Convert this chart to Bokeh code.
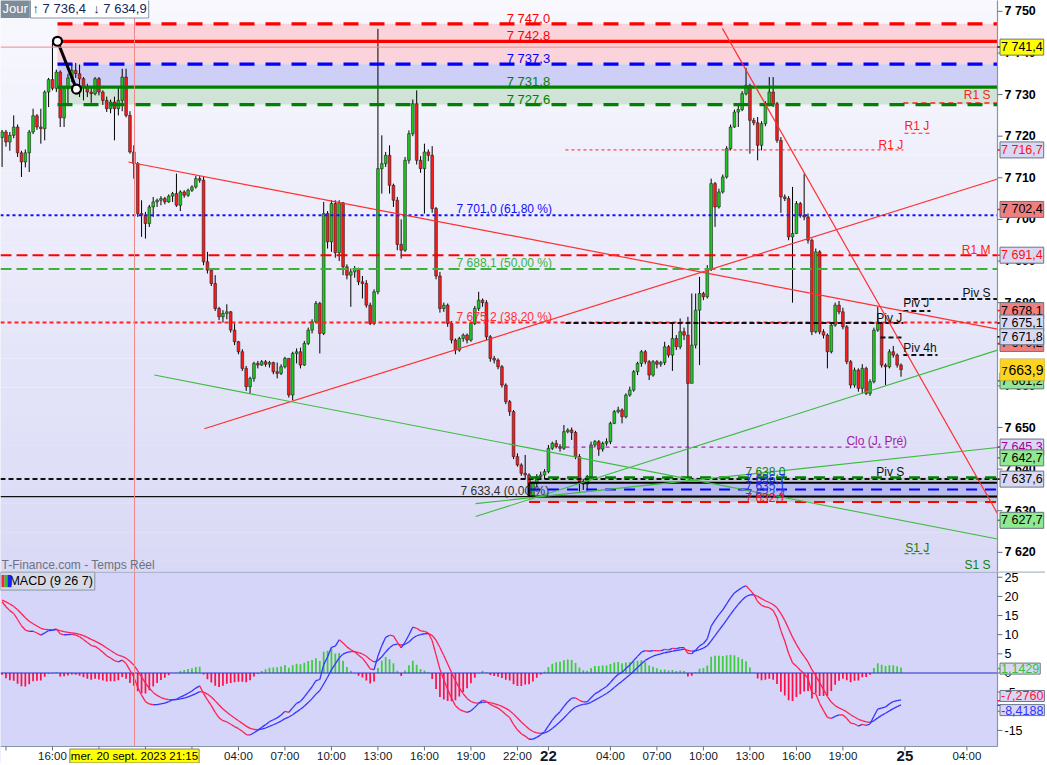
import numpy as np
from bokeh.plotting import figure
from bokeh.layouts import column
from bokeh.models import Range1d, Label, BoxAnnotation, ColumnDataSource
from bokeh.core.properties import value
from bokeh.embed import file_html
from bokeh.resources import INLINE

# ---------------- data (15-minute candles, index 0 = 20 Sep 12:45) ----------------
OPEN_FIRST = 7719.7
CLOSE = [
    7721.0, 7718.6, 7720.2, 7722.2, 7716.0, 7713.8, 7716.0, 7721.0, 7724.9, 7722.2,
    7721.8, 7730.6, 7733.6, 7731.5, 7735.4, 7724.4, 7731.4, 7734.0, 7735.8, 7735.0,
    7733.8, 7731.8, 7730.6, 7730.2, 7733.8, 7730.6, 7728.6, 7726.6, 7728.2, 7726.6,
    7728.6, 7734.2, 7725.0, 7716.2, 7713.4, 7701.4, 7701.0, 7699.0, 7703.0, 7704.2,
    7704.6, 7705.0, 7704.2, 7705.6, 7706.2, 7703.4, 7706.6, 7705.8, 7707.0, 7707.8,
    7709.8, 7709.4, 7689.8, 7687.8, 7684.6, 7678.6, 7676.6, 7677.4, 7677.8, 7673.4,
    7670.6, 7668.2, 7664.2, 7659.8, 7661.8, 7665.4, 7665.0, 7665.8, 7665.2, 7665.6,
    7663.4, 7663.0, 7664.6, 7666.6, 7657.8, 7667.8, 7668.2, 7665.0, 7670.2, 7673.4,
    7675.4, 7679.8, 7672.6, 7701.4, 7694.6, 7703.8, 7692.0, 7704.0, 7688.6, 7686.6,
    7687.4, 7688.0, 7685.0, 7684.6, 7679.4, 7675.0, 7682.6, 7712.2, 7713.4, 7715.4,
    7708.2, 7704.6, 7694.0, 7692.6, 7714.2, 7720.6, 7727.8, 7714.2, 7712.2, 7716.2,
    7715.4, 7702.6, 7686.4, 7678.6, 7679.4, 7675.0, 7671.0, 7668.6, 7671.4, 7672.2,
    7671.0, 7675.0, 7678.6, 7680.6, 7680.0, 7671.8, 7666.6, 7666.2, 7664.6, 7660.2,
    7656.2, 7653.8, 7643.0, 7641.0, 7639.0, 7638.6, 7633.6, 7636.6, 7638.2, 7638.6,
    7639.4, 7645.0, 7646.2, 7645.4, 7645.0, 7649.0, 7649.4, 7648.8, 7643.0, 7637.0,
    7636.4, 7638.2, 7645.8, 7646.6, 7644.8, 7646.2, 7646.6, 7651.0, 7653.8, 7654.2,
    7652.6, 7657.8, 7659.0, 7663.4, 7665.4, 7668.2, 7665.8, 7662.6, 7665.8, 7665.2,
    7665.6, 7669.4, 7667.4, 7671.4, 7669.4, 7673.0, 7672.2, 7660.6, 7669.8, 7678.2,
    7682.2, 7681.4, 7688.2, 7708.6, 7703.0, 7706.6, 7710.2, 7717.0, 7722.2, 7725.8,
    7726.4, 7730.2, 7732.2, 7723.8, 7723.2, 7717.8, 7723.0, 7727.8, 7730.6, 7727.8,
    7719.0, 7705.4, 7705.0, 7695.8, 7696.6, 7703.8, 7701.0, 7700.6, 7695.0, 7673.0,
    7692.2, 7673.0, 7672.2, 7668.2, 7674.6, 7679.4, 7677.8, 7674.2, 7665.8, 7660.2,
    7663.8, 7659.4, 7664.2, 7658.2, 7661.0, 7673.4, 7675.0, 7665.0, 7664.6, 7668.2,
    7667.4, 7665.0, 7663.9,
]
HIGH = [
    7721.5, 7721.5, 7721.0, 7725.0, 7722.8, 7716.5, 7716.8, 7721.5, 7726.6, 7725.3,
    7726.6, 7731.0, 7734.0, 7742.5, 7736.0, 7735.8, 7732.0, 7735.0, 7737.4, 7737.6,
    7737.2, 7734.2, 7732.6, 7731.8, 7734.2, 7734.2, 7731.0, 7729.5, 7728.8, 7729.5,
    7731.8, 7736.2, 7736.2, 7726.0, 7717.8, 7713.8, 7704.6, 7701.8, 7703.5, 7705.4,
    7705.0, 7705.6, 7705.4, 7706.0, 7706.6, 7711.0, 7707.0, 7707.0, 7707.4, 7708.2,
    7710.5, 7710.4, 7710.2, 7692.2, 7688.2, 7686.6, 7679.0, 7678.2, 7679.6, 7678.0,
    7675.0, 7670.8, 7668.8, 7664.8, 7662.2, 7665.8, 7666.0, 7666.2, 7666.2, 7666.0,
    7665.8, 7665.6, 7665.2, 7667.0, 7666.6, 7668.2, 7669.0, 7669.2, 7670.8, 7674.0,
    7676.0, 7680.4, 7680.2, 7704.2, 7702.0, 7704.6, 7704.6, 7704.6, 7704.2, 7689.2,
    7688.2, 7688.8, 7688.4, 7686.4, 7685.4, 7680.0, 7683.2, 7745.8, 7720.2, 7716.2,
    7717.8, 7708.6, 7705.4, 7700.0, 7715.0, 7721.4, 7728.8, 7731.0, 7715.2, 7718.2,
    7716.8, 7717.6, 7703.0, 7687.4, 7680.0, 7679.8, 7675.6, 7671.4, 7671.8, 7672.6,
    7672.6, 7675.4, 7679.2, 7682.6, 7681.0, 7680.6, 7672.2, 7667.2, 7666.6, 7665.0,
    7660.6, 7656.6, 7654.2, 7643.8, 7641.4, 7643.4, 7639.0, 7637.0, 7638.8, 7639.4,
    7640.0, 7645.8, 7646.6, 7647.0, 7646.0, 7650.6, 7649.8, 7650.0, 7649.2, 7643.6,
    7637.6, 7638.6, 7646.6, 7647.0, 7647.0, 7646.6, 7647.4, 7651.4, 7654.2, 7655.0,
    7654.6, 7658.2, 7659.8, 7663.8, 7665.8, 7668.6, 7668.6, 7666.2, 7666.2, 7666.2,
    7666.0, 7670.6, 7669.8, 7675.0, 7672.2, 7676.2, 7674.0, 7676.6, 7682.2, 7682.2,
    7686.2, 7682.6, 7689.0, 7709.8, 7709.0, 7707.4, 7710.8, 7717.6, 7722.8, 7726.4,
    7727.8, 7730.8, 7736.4, 7732.6, 7724.4, 7724.6, 7723.6, 7728.4, 7734.2, 7734.2,
    7728.2, 7719.8, 7706.0, 7705.6, 7707.8, 7704.4, 7704.2, 7711.0, 7701.4, 7695.4,
    7693.0, 7692.6, 7673.6, 7672.6, 7675.2, 7680.0, 7680.4, 7678.8, 7674.6, 7666.2,
    7664.4, 7664.2, 7665.2, 7664.6, 7661.6, 7674.0, 7679.0, 7675.4, 7665.4, 7668.8,
    7669.6, 7667.8, 7665.4,
]
LOW = [
    7712.6, 7717.5, 7716.5, 7719.5, 7715.0, 7710.2, 7712.5, 7711.4, 7720.5, 7721.5,
    7718.2, 7719.0, 7727.0, 7731.0, 7730.6, 7722.2, 7722.2, 7727.8, 7733.0, 7734.0,
    7729.4, 7728.6, 7729.4, 7728.0, 7729.8, 7729.8, 7727.5, 7725.8, 7725.5, 7719.0,
    7725.0, 7726.0, 7724.5, 7715.8, 7709.8, 7700.6, 7695.8, 7695.4, 7698.2, 7700.6,
    7703.0, 7703.4, 7703.6, 7704.0, 7704.2, 7703.0, 7702.0, 7705.2, 7705.4, 7706.6,
    7707.4, 7708.8, 7689.0, 7687.0, 7684.0, 7678.0, 7675.8, 7675.2, 7676.0, 7672.8,
    7669.8, 7667.6, 7663.6, 7658.8, 7658.2, 7661.0, 7664.2, 7664.8, 7664.6, 7664.4,
    7662.8, 7661.8, 7662.6, 7664.2, 7657.2, 7656.6, 7665.4, 7664.2, 7664.8, 7669.8,
    7672.6, 7675.0, 7667.8, 7672.2, 7693.0, 7692.2, 7690.8, 7690.0, 7686.6, 7685.6,
    7679.0, 7686.0, 7684.2, 7681.0, 7678.8, 7674.6, 7674.6, 7682.0, 7706.2, 7712.6,
    7706.2, 7703.0, 7692.6, 7690.6, 7692.2, 7713.4, 7720.0, 7713.2, 7711.2, 7701.4,
    7714.0, 7701.6, 7685.6, 7677.6, 7677.8, 7674.2, 7670.2, 7667.6, 7668.2, 7670.6,
    7670.2, 7670.6, 7674.6, 7678.0, 7679.0, 7671.0, 7665.8, 7665.4, 7664.0, 7659.6,
    7655.6, 7652.8, 7642.4, 7640.6, 7638.4, 7637.6, 7633.4, 7633.6, 7635.6, 7637.6,
    7637.6, 7639.0, 7644.6, 7645.0, 7644.2, 7644.6, 7648.6, 7647.0, 7642.4, 7634.6,
    7635.0, 7634.9, 7637.6, 7645.2, 7643.2, 7644.2, 7645.6, 7646.0, 7650.8, 7653.4,
    7651.0, 7652.2, 7657.4, 7658.6, 7662.6, 7664.6, 7665.2, 7661.4, 7662.2, 7664.2,
    7664.6, 7665.0, 7666.8, 7663.6, 7668.6, 7668.8, 7671.0, 7637.8, 7668.0, 7669.0,
    7665.0, 7680.6, 7681.0, 7687.6, 7698.2, 7702.6, 7706.2, 7709.8, 7716.6, 7722.0,
    7722.2, 7726.0, 7729.8, 7715.8, 7722.6, 7714.2, 7716.6, 7722.4, 7727.2, 7727.0,
    7718.4, 7701.6, 7704.4, 7695.0, 7680.0, 7696.6, 7700.4, 7699.8, 7694.2, 7672.2,
    7672.6, 7672.4, 7671.4, 7664.2, 7667.8, 7674.2, 7677.2, 7673.6, 7665.2, 7659.4,
    7659.6, 7658.6, 7658.2, 7657.8, 7657.6, 7660.6, 7673.0, 7664.4, 7660.2, 7664.2,
    7666.8, 7664.4, 7662.2,
]

# MACD (9 26 7) computed from the closes; starting EMA states
MACD_FAST, MACD_SLOW, MACD_SIGNAL = 9, 26, 7
EMA_FAST_SEED = 7718.0
EMA_SLOW_SEED = 7699.4
SIGNAL_SEED = 19.0
HIST_SCALE = 1.1

# time axis
X_TICK_POS = [1, 13, 25, 37, 49, 61, 73, 85, 97, 109, 121, 133, 141, 157, 169, 181, 193, 205, 217, 233, 249]
X_TICK_LABELS = ["", "16:00", "", "", "", "04:00", "07:00", "10:00", "13:00", "16:00", "19:00",
                 "22:00", "", "04:00", "07:00", "10:00", "13:00", "16:00", "19:00", "", "04:00"]
DAY_TICK_POS = [141, 233]
DAY_TICK_LABELS = ["22", "25"]
CROSS_K = 34.17
CROSS_PRICE = 7741.4
CROSS_DATE = "mer. 20 sept. 2023 21:15"

PRICE_TICKS = [7620, 7630, 7640, 7650, 7660, 7670, 7680, 7690, 7700, 7710, 7720, 7730, 7740, 7750]
PRICE_TICK_LABELS = ["7 620", "7 630", "7 640", "7 650", "7 660", "7 670", "7 680", "7 690",
                     "7 700", "7 710", "7 720", "7 730", "7 740", "7 750"]
MACD_TICKS = [-15, -10, -5, 0, 5, 10, 15, 20, 25]
MACD_TICK_LABELS = ["-15", "-10", "-5", "0", "5", "10", "15", "20", "25"]

# horizontal zones
TOP_ZONE_START = 14.3
TOP_LEVELS = [7747.0, 7742.8, 7737.3, 7731.8, 7727.6]
TOP_LABELS = ["7 747,0", "7 742,8", "7 737,3", "7 731,8", "7 727,6"]
BOT_ZONE_START = 136.0
BOT_LEVELS = [7638.0, 7636.7, 7635.1, 7633.4, 7632.1]
BOT_LABELS = ["7 638,0", "7 636,7", "7 635,1", "7 633,4", "7 632,1"]
FIB_LEVELS = [7701.0, 7688.1, 7675.2, 7633.4]
FIB_LABELS = ["7 701,0 (61,80 %)", "7 688,1 (50,00 %)", "7 675,2 (38,20 %)", "7 633,4 (0,00 %)"]
R1M_LEVEL = 7691.4
PIVS_LEVEL = 7637.6
DAY_LEVELS = [7716.7, 7675.1, 7645.3]          # R1 J, Piv J, Clo (J, Pré)
DAY_START, DAY_END = 145.4, 232.6

# trend lines: (k start, price start, k at last candle, price at last candle)
TREND_RED = [(32.6, 7713.8, 232, 7678.1), (52.2, 7649.7, 232, 7702.4), (185.9, 7745.9, 232, 7670.2)]
TREND_GREEN = [(39.3, 7662.6, 232, 7627.7), (122.2, 7628.6, 232, 7661.2), (122.2, 7631.7, 232, 7642.7)]
DRAW_K = [14.3, 19.2]
DRAW_P = [7742.8, 7731.3]

AXIS_BOX_VALUES = [7741.4, 7716.7, 7702.4, 7691.4, 7678.1, 7675.1, 7670.2, 7671.8, 7661.2, 7645.3, 7642.7, 7637.6, 7627.7]
AXIS_BOX_TEXTS = ["7 741,4", "7 716,7", "7 702,4", "7 691,4", "7 678,1", "7 675,1", "7 670,2", "7 671,8",
                  "7 661,2", "7 645,3", "7 642,7", "7 637,6", "7 627,7"]
LAST_PRICE = 7663.9
LAST_TEXT_HEAD, LAST_TEXT_TAIL = "7", "663,9"
MACD_BOX_TEXTS = ["1,1429", "-7,2760", "-8,4188"]
MACD_BOX_POS = [1.1429, -6.0, -9.7]
DAY_HIGH_LOW = ("7 736,4", "7 634,9")

# ---------------- derived ----------------
N = len(CLOSE)
K = np.arange(N)
OPEN = [OPEN_FIRST] + CLOSE[:-1]
UP, DOWN = "#1ec81e", "#ff1a1a"
body_col = [UP if c > o else (DOWN if c < o else "#000000") for o, c in zip(OPEN, CLOSE)]

def ema(vals, n, seed):
    a = 2.0 / (n + 1)
    out = [seed]
    for v in vals[1:]:
        out.append(a * v + (1 - a) * out[-1])
    return np.array(out)

fast = ema(CLOSE, MACD_FAST, EMA_FAST_SEED)
slow = ema(CLOSE, MACD_SLOW, EMA_SLOW_SEED)
macd = fast - slow
signal = ema(list(macd), MACD_SIGNAL, SIGNAL_SEED)
hist = macd - signal

# geometry: plot area + value-axis strip inside the same frame
X0, X1 = -0.41, 256.9
PLOT_W, AXIS_W = 997, 48
KPX = (X1 - X0) / PLOT_W
XEND = X1 + AXIS_W * KPX
PY0, PY1 = 7615.4, 7752.6
MY0, MY1 = -19.2, 26.5
FH1, FH2, XAX_H = 571, 175, 17
UPX2 = (MY1 - MY0) / FH2
PPX1 = (PY1 - PY0) / FH1
FONT = "Liberation Sans"
GRAY = "#8795a5"
TICKC = "#607080"

XR = Range1d(X0, XEND)

def add_text(fig, x, y, text, color, size=11, align="left", bold=False, bg=None, border=None,
             pad=0, baseline="middle"):
    kw = dict(x=x, y=y, text=text, text_color=color, text_font_size=f"{size}px", text_align=align,
              text_baseline=baseline, text_font=FONT, text_font_style="bold" if bold else "normal")
    if bg is not None:
        kw.update(background_fill_color=bg, background_fill_alpha=1.0)
    if border is not None:
        kw.update(border_line_color=border, border_line_width=1)
    if pad:
        kw.update(padding=pad)
    fig.add_layout(Label(**kw))

def hline(fig, y, x0, x1, color, width, dash="solid"):
    fig.line([x0, x1], [y, y], line_color=color, line_width=width, line_dash=dash)

def base_fig(h, yr):
    f = figure(frame_width=PLOT_W + AXIS_W, frame_height=h, x_range=XR, y_range=yr,
               output_backend="svg", toolbar_location=None, x_axis_location=None, y_axis_location=None,
               min_border_left=0, min_border_right=0, min_border_top=0, min_border_bottom=0)
    f.grid.visible = False
    f.outline_line_color = None
    f.border_fill_color = "white"
    return f

# ---------------- price panel ----------------
p1 = base_fig(FH1, Range1d(PY0, PY1))
p1.background_fill_color = "white"

nb = 40
top_c, bot_c = np.array([249, 249, 255]), np.array([217, 217, 246])
for i in range(nb):
    t = (i + 0.5) / nb
    c = top_c + (bot_c - top_c) * t
    hi = PY1 + 1 - (PY1 - PY0 + 2) * i / nb
    lo = PY1 + 1 - (PY1 - PY0 + 2) * (i + 1) / nb - 0.05
    p1.add_layout(BoxAnnotation(left=X0 - 1, right=X1, top=hi, bottom=lo,
                                fill_color="#%02x%02x%02x" % tuple(int(v) for v in c),
                                fill_alpha=1.0, line_color=None, level="underlay"))

def zone(fig, left, top, bottom, color):
    fig.add_layout(BoxAnnotation(left=left, right=X1, top=top, bottom=bottom, fill_color=color,
                                 fill_alpha=1, line_color=None, level="underlay"))

zone(p1, TOP_ZONE_START, TOP_LEVELS[0], TOP_LEVELS[2], "#fbd3da")
zone(p1, TOP_ZONE_START, TOP_LEVELS[2], TOP_LEVELS[3], "#cdcff7")
zone(p1, TOP_ZONE_START, TOP_LEVELS[3], TOP_LEVELS[4], "#cfe3d6")
zone(p1, BOT_ZONE_START, BOT_LEVELS[0], BOT_LEVELS[4], "#c2c5d8")
zone(p1, BOT_ZONE_START, BOT_LEVELS[1], BOT_LEVELS[3], "#b9bbef")

# candles
src = ColumnDataSource(dict(k=K, o=OPEN, c=CLOSE, h=HIGH, l=LOW,
                            top=np.maximum(OPEN, CLOSE), bot=np.minimum(OPEN, CLOSE), col=body_col))
p1.segment("k", "l", "k", "h", source=src, line_color="black", line_width=1)
p1.vbar(x="k", top="top", bottom="bot", width=0.7, source=src, fill_color="col",
        line_color="#202020", line_width=0.6)

# fibonacci + pivot lines
hline(p1, FIB_LEVELS[0], X0, X1, "#1010ff", 2, "3 3")
hline(p1, R1M_LEVEL, X0, X1, "#ff0000", 2, "11 5")
hline(p1, FIB_LEVELS[1], X0, X1, "#3cb43c", 2, "11 5")
hline(p1, FIB_LEVELS[2], X0, X1, "#ff2020", 2, "4 3")
hline(p1, FIB_LEVELS[3], X0, X1, "#101010", 1.2)
hline(p1, PIVS_LEVEL, X0, X1, "#101010", 2, "5 3")
hline(p1, DAY_LEVELS[0], DAY_START, DAY_END, "#ff2020", 1, "3 3")
hline(p1, DAY_LEVELS[1], DAY_START, DAY_END, "#101010", 2, "5 3")
hline(p1, DAY_LEVELS[2], DAY_START, DAY_END, "#b020b0", 1.2, "4 4")

hline(p1, 7728.0, 232.6, X1, "#ff2020", 1.5, "5 4")
hline(p1, 7680.9, 233.1, X1, "#101010", 2, "5 3")
hline(p1, 7720.7, 232.9, 239.6, "#ff2020", 1.2, "4 3")
hline(p1, 7678.0, 232.6, 239.6, "#101010", 2, "5 3")
hline(p1, 7667.4, 232.6, 241.4, "#101010", 2, "5 3")
hline(p1, 7671.6, 226.7, 232.6, "#101010", 2, "5 3")
hline(p1, 7619.7, 232.9, 239.6, "#22a022", 1.2, "4 3")

top_cols = ["#ff0000", "#ff0000", "#0000ff", "#008000", "#008000"]
top_dash = ["15 11", "solid", "15 11", "solid", "15 11"]
for lv, cl, ds in zip(TOP_LEVELS, top_cols, top_dash):
    hline(p1, lv, TOP_ZONE_START, X1, cl, 3.2, ds)
bot_cols = ["#008000", "#000000", "#0000ff", "#000000", "#ff0000"]
bot_dash = ["11 8", "solid", "11 8", "solid", "11 8"]
bot_w = [2.5, 2, 2.2, 2, 2.2]
for lv, cl, ds, w in zip(BOT_LEVELS, bot_cols, bot_dash, bot_w):
    hline(p1, lv, BOT_ZONE_START, X1, cl, w, ds)
p1.line([BOT_ZONE_START, BOT_ZONE_START], [BOT_LEVELS[3], BOT_LEVELS[1]], line_color="black", line_width=2)

def ray(fig, seg, color, width):
    k0, p0, k1, pv = seg
    slope = (pv - p0) / (k1 - k0)
    fig.line([k0, X1], [p0, pv + slope * (X1 - k1)], line_color=color, line_width=width)

for s in TREND_RED:
    ray(p1, s, "#ff3030", 1.2)
for s in TREND_GREEN:
    ray(p1, s, "#3cbc3c", 1.1)

p1.line(DRAW_K, DRAW_P, line_color="black", line_width=3)
p1.scatter(DRAW_K, DRAW_P, size=9, fill_color="white", line_color="black", line_width=2.2)

# crosshair
p1.line([CROSS_K, CROSS_K], [PY0, PY1], line_color="#f08888", line_width=1)
hline(p1, CROSS_PRICE, X0, X1, "#f08888", 1)

# level texts
tl_cols = ["#ff0000", "#ff0000", "#0000ff", "#008000", "#008000"]
for lv, tx, cl in zip(TOP_LEVELS, TOP_LABELS, tl_cols):
    add_text(p1, 135.85, lv + 1.3, tx, cl, size=13, align="center")
bl_cols = ["#108010", "#2030e0", "#2030e0", "#3040d0", "#ff1010"]
bl_off = [1.4, 0.9, 0.8, 0.7, 0.9]
for lv, tx, cl, of in zip(BOT_LEVELS, BOT_LABELS, bl_cols, bl_off):
    add_text(p1, 197.0, lv + of, tx, cl, size=12, align="center")
fib_cols = ["#1010ff", "#3cb43c", "#ff3030", "#303030"]
fib_x = [117.3, 117.3, 117.3, 118.3]
for lv, tx, cl, x in zip(FIB_LEVELS, FIB_LABELS, fib_cols, fib_x):
    add_text(p1, x, lv + 1.4, tx, cl, size=12)

RX = 255.1
add_text(p1, RX, 7729.8, "R1 S", "#ff2020", size=12, align="right")
add_text(p1, 232.9, 7722.4, "R1 J", "#ff2020", size=12)
add_text(p1, 226.2, 7717.8, "R1 J", "#ff2020", size=12)
add_text(p1, RX, 7692.6, "R1 M", "#ff2020", size=12, align="right")
add_text(p1, RX, 7682.3, "Piv S", "#101010", size=12, align="right")
add_text(p1, 232.6, 7679.9, "Piv J", "#101010", size=12)
add_text(p1, 225.6, 7676.3, "Piv J", "#101010", size=12)
add_text(p1, 232.6, 7669.1, "Piv 4h", "#101010", size=12)
add_text(p1, 217.9, 7646.8, "Clo (J, Pré)", "#a020a0", size=12)
add_text(p1, 225.6, 7639.4, "Piv S", "#101010", size=12)
add_text(p1, 233.1, 7621.1, "S1 J", "#108010", size=12)
add_text(p1, RX, 7617.0, "S1 S", "#108010", size=12, align="right")
add_text(p1, X0 + 1 * KPX, 7616.9, "T-Finance.com - Temps Réel", "#6a7282", size=12)

add_text(p1, X0, PY1 - 8 * PPX1, "Jour", "white", size=13, bg="#7e8b98", pad=2)
add_text(p1, X0 + 30 * KPX, PY1 - 8 * PPX1,
         "\u2191 " + DAY_HIGH_LOW[0] + "\u00a0\u00a0\u2193 " + DAY_HIGH_LOW[1],
         "#14285a", size=13, bg="white", border=GRAY, pad=2)

# price value axis (strip at the right of the plot)
p1.add_layout(BoxAnnotation(left=X1, right=XEND + 1, fill_color="white", fill_alpha=1,
                            line_color=None, level="underlay"))
p1.line([X1, X1], [PY0, PY1 + 1], line_color=GRAY, line_width=1.2)
p1.segment(x0=[X1] * len(PRICE_TICKS), y0=PRICE_TICKS, x1=[X1 + 5 * KPX] * len(PRICE_TICKS),
           y1=PRICE_TICKS, line_color=TICKC, line_width=1)
p1.text(x=[X1 + 7 * KPX] * len(PRICE_TICKS), y=PRICE_TICKS, text=PRICE_TICK_LABELS,
        text_font=value(FONT), text_font_size="12.5px", text_font_style="bold",
        text_color="black", text_baseline="middle", text_align="left")

box_bg = ["#ffff00", "#d8d8f4", "#f08080", "#d8d8f4", "#f08080", "#d8d8f4", "#f08080", "#d8d8f4",
          "#90e890", "#d8d8f4", "#90e890", "#d8d8f4", "#90e890"]
box_tc = ["black", "#ff1010", "black", "#ff1010", "black", "black", "black", "black",
          "black", "#a000a0", "black", "black", "black"]
tick_c = ["black", "#ff1010", "#ff1010", "#ff1010", "#ff1010", "black", "#ff1010", "black",
          "#22a022", "#a000a0", "#22a022", "black", "#22a022"]
p1.segment(x0=[X1] * len(AXIS_BOX_VALUES), y0=AXIS_BOX_VALUES, x1=[X1 + 5 * KPX] * len(AXIS_BOX_VALUES),
           y1=AXIS_BOX_VALUES, line_color=tick_c, line_width=1.5)
BX = X1 + 2.5 * KPX
for v, tx, bg, tc in zip(AXIS_BOX_VALUES, AXIS_BOX_TEXTS, box_bg, box_tc):
    add_text(p1, BX, v, tx, tc, size=12.5, bg=bg, border="#6a7480", pad=1)

# current price box: gold box with small "7" and larger remaining digits
p1.add_layout(BoxAnnotation(left=BX, right=XEND - 0.6 * KPX, top=LAST_PRICE + 11 * PPX1,
                            bottom=LAST_PRICE - 11 * PPX1, fill_color="#ffd41e", fill_alpha=1,
                            line_color="#6a7480", line_width=1, level="annotation"))
add_text(p1, BX + 1.5 * KPX, LAST_PRICE - 1 * PPX1, LAST_TEXT_HEAD, "black", size=11)
add_text(p1, BX + 8.5 * KPX, LAST_PRICE, LAST_TEXT_TAIL, "black", size=14)

# ---------------- MACD panel ----------------
MYB = MY0 - XAX_H * UPX2
p2 = base_fig(FH2 + XAX_H, Range1d(MYB, MY1))
p2.background_fill_color = "#d5d5fa"
p2.add_layout(BoxAnnotation(top=MY0, fill_color="white", fill_alpha=1, line_color=None, level="underlay"))
p2.add_layout(BoxAnnotation(left=X1, fill_color="white", fill_alpha=1, line_color=None, level="underlay"))

hcol = ["#3ccc3c" if v >= 0 else "#ff1048" for v in hist]
p2.vbar(x=K, top=hist * HIST_SCALE, bottom=0, width=0.45, fill_color=hcol, line_color=None)
hline(p2, 0, X0, X1, "#2b2bc8", 1.2)

def slope_segments(vals):
    cols = ["#3535ff" if vals[i + 1] >= vals[i] else "#ff2050" for i in range(len(vals) - 1)]
    return ColumnDataSource(dict(x0=K[:-1], x1=K[1:], y0=vals[:-1], y1=vals[1:], c=cols))

p2.segment("x0", "y0", "x1", "y1", source=slope_segments(signal), line_color="c", line_width=1.3)
p2.segment("x0", "y0", "x1", "y1", source=slope_segments(macd), line_color="c", line_width=1.3)
p2.line([CROSS_K, CROSS_K], [MY0, MY1], line_color="#f08888", line_width=1)

# borders
hline(p2, MY1 - 0.5 * UPX2, X0, XEND, GRAY, 1.2)
hline(p2, MY0, X0, X1, GRAY, 1.2)
p2.line([X1, X1], [MY0, MY1], line_color=GRAY, line_width=1.2)

add_text(p2, X0, 24.0, "\u00a0\u00a0MACD (9 26 7)", "black", size=12.5, bg="#d6dae6", border=GRAY, pad=2)
icon = p2.quad(left=[X0 + 1 * KPX, X0 + 4 * KPX, X0 + 7 * KPX], right=[X0 + 4 * KPX, X0 + 7 * KPX, X0 + 11 * KPX],
               top=[25.6] * 3, bottom=[22.4] * 3, fill_color=["#ff2040", "#30c030", "#2020ff"], line_color=None)
icon.level = "overlay"

# MACD value axis
p2.segment(x0=[X1] * len(MACD_TICKS), y0=MACD_TICKS, x1=[X1 + 5 * KPX] * len(MACD_TICKS),
           y1=MACD_TICKS, line_color=TICKC, line_width=1)
p2.text(x=[X1 + 7 * KPX] * len(MACD_TICKS), y=MACD_TICKS, text=MACD_TICK_LABELS,
        text_font=value(FONT), text_font_size="12.5px", text_color="black",
        text_baseline="middle", text_align="left")
mb_tc = ["#38c038", "#ff1040", "#3030ff"]
mb_tick = [1.1429, -7.2760, -8.4188]
p2.segment(x0=[X1] * 3, y0=mb_tick, x1=[X1 + 5 * KPX] * 3, y1=mb_tick, line_color=mb_tc, line_width=1.5)
for v, tx, tc in zip(MACD_BOX_POS, MACD_BOX_TEXTS, mb_tc):
    add_text(p2, BX, v, tx, tc, size=12.5, bg="#d8d8f4", border="#6a7480", pad=1)

# time axis
p2.segment(x0=X_TICK_POS, y0=[MY0] * len(X_TICK_POS), x1=X_TICK_POS,
           y1=[MY0 - 4 * UPX2] * len(X_TICK_POS), line_color=TICKC, line_width=1)
YLAB = MY0 - 9.5 * UPX2
p2.text(x=X_TICK_POS, y=[YLAB] * len(X_TICK_POS), text=X_TICK_LABELS, text_font=value(FONT),
        text_font_size="11.5px", text_color="#101828", text_baseline="middle", text_align="center")
p2.text(x=DAY_TICK_POS, y=[YLAB] * len(DAY_TICK_POS), text=DAY_TICK_LABELS, text_font=value(FONT),
        text_font_size="15px", text_font_style="bold", text_color="#101828",
        text_baseline="middle", text_align="center")
add_text(p2, CROSS_K, YLAB, CROSS_DATE, "black", size=11.5, align="center", bg="#ffff00", border="#808080", pad=1)

layout = column(p1, p2, spacing=0)
open("out.html", "w").write(file_html(layout, INLINE))
